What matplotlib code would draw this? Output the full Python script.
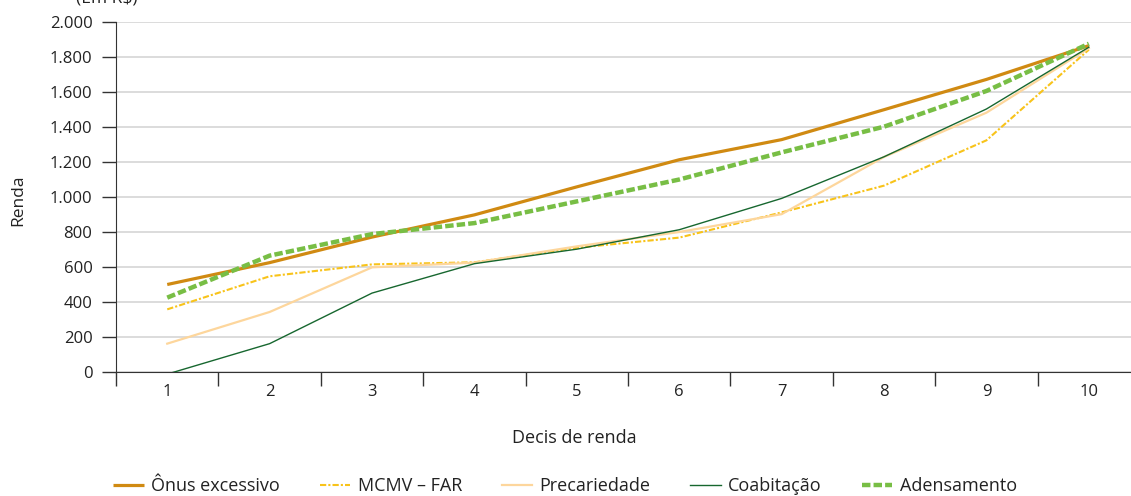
import matplotlib
matplotlib.use("Agg")
from matplotlib import pyplot as plt
from matplotlib.ticker import FixedLocator, FuncFormatter

plt.rcParams["font.family"] = ["Open Sans", "DejaVu Sans"]

# renda media por decil para cada componente do deficit
decis = [1, 2, 3, 4, 5, 6, 7, 8, 9, 10]
onus = [500, 625, 771, 898, 1058, 1213, 1328, 1499, 1672, 1865]
mcmv = [358, 547, 615, 627, 710, 768, 912, 1065, 1324, 1842]
precariedade = [162, 343, 598, 625, 718, 800, 902, 1229, 1482, 1850]
coabitacao = [-12, 162, 451, 619, 702, 813, 992, 1230, 1503, 1856]
adensamento = [425, 665, 788, 851, 975, 1100, 1255, 1402, 1606, 1876]

nomes = ["Ônus excessivo", "MCMV – FAR", "Precariedade", "Coabitação", "Adensamento"]
ticks_y = [0, 200, 400, 600, 800, 1000, 1200, 1400, 1600, 1800, 2000]

fig = plt.figure(figsize=(11.31, 4.96), dpi=100)
ax = fig.add_axes([0.1026, 0.25, 0.9054, 0.7056])

ax.plot(decis, onus, color="#D08A12", lw=2.3, solid_capstyle="butt", label=nomes[0], zorder=3)
ax.plot(decis, mcmv, color="#F8C31A", lw=1.5, linestyle=(0, (3, 1, 1, 1)), label=nomes[1], zorder=3)
ax.plot(decis, precariedade, color="#FDD69C", lw=1.6, label=nomes[2], zorder=3)
ax.plot(decis, coabitacao, color="#17672F", lw=1.0, label=nomes[3], zorder=3)
ax.plot(decis, adensamento, color="#78BE45", lw=3.2, linestyle=(0, (1.9, 0.7)), label=nomes[4], zorder=4)

ax.set_xlim(0.5, 10.5)
ax.set_ylim(0, 2000)

# eixo y com separador de milhar em ponto
ax.yaxis.set_major_locator(FixedLocator(ticks_y))
ax.yaxis.set_major_formatter(FuncFormatter(lambda v, p: f"{v:,.0f}".replace(",", ".")))
ax.grid(axis="y", color="#D6D6D6", lw=1.2, zorder=0)
ax.tick_params(axis="y", length=10, width=1, color="#333333", labelsize=12, pad=7, labelcolor="#222222")

# rotulos no centro dos decis, marcas nas divisas
ax.set_xticks(decis)
ax.set_xticks([d + 0.5 for d in decis[:-1]] + [0.5], minor=True)
ax.tick_params(axis="x", which="major", length=0, labelsize=12, pad=9, labelcolor="#222222")
ax.tick_params(axis="x", which="minor", length=10, width=1, color="#333333")

for lado in ["top", "right"]:
    ax.spines[lado].set_visible(False)
ax.spines["left"].set_color("#333333")
ax.spines["bottom"].set_color("#333333")
ax.set_axisbelow(True)

fig.text(0.508, 0.117, "Decis de renda", fontsize=13, ha="center", va="center", color="#222222")
fig.text(0.016, 0.597, "Renda", rotation=90, fontsize=12.5, ha="center", va="center", color="#222222")
fig.text(0.094, 1.004, "(Em R$)", fontsize=12.5, ha="center", va="center", color="#222222")

fig.legend(loc="center", bbox_to_anchor=(0.4996, 0.02), ncol=5, frameon=False, fontsize=13,
           handlelength=1.7, handletextpad=0.4, columnspacing=2.2, labelcolor="#222222")

fig.savefig("out.png", dpi=100)
